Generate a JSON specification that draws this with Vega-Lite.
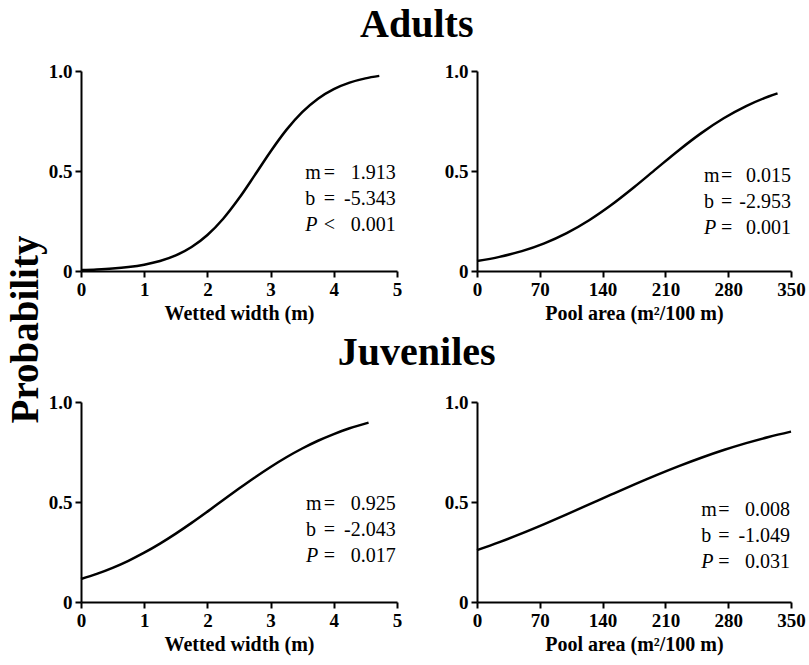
{
  "$schema": "https://vega.github.io/schema/vega-lite/v6.json",
  "background": "white",
  "padding": {"left": 7, "top": 5, "right": 10, "bottom": 5},
  "title": {"text": "Probability", "orient": "left", "anchor": "middle", "fontSize": 39, "offset": 2},
  "datasets": {
    "curves": [
      {"panel": "A", "x": 0, "p": 0.0048}, {"panel": "A", "x": 0.25, "p": 0.0077}, {"panel": "A", "x": 0.5, "p": 0.0123},
      {"panel": "A", "x": 0.75, "p": 0.0197}, {"panel": "A", "x": 1, "p": 0.0314}, {"panel": "A", "x": 1.25, "p": 0.0497},
      {"panel": "A", "x": 1.5, "p": 0.0777}, {"panel": "A", "x": 1.75, "p": 0.1197}, {"panel": "A", "x": 2, "p": 0.1799},
      {"panel": "A", "x": 2.25, "p": 0.2614}, {"panel": "A", "x": 2.5, "p": 0.3634}, {"panel": "A", "x": 2.75, "p": 0.4794},
      {"panel": "A", "x": 3, "p": 0.5977}, {"panel": "A", "x": 3.25, "p": 0.7056}, {"panel": "A", "x": 3.5, "p": 0.7945},
      {"panel": "A", "x": 3.75, "p": 0.8618}, {"panel": "A", "x": 4, "p": 0.9096}, {"panel": "A", "x": 4.25, "p": 0.942},
      {"panel": "A", "x": 4.5, "p": 0.9632}, {"panel": "A", "x": 4.72, "p": 0.9756},

      {"panel": "B", "x": 0, "p": 0.0496}, {"panel": "B", "x": 25, "p": 0.0706}, {"panel": "B", "x": 50, "p": 0.0995},
      {"panel": "B", "x": 75, "p": 0.1385}, {"panel": "B", "x": 100, "p": 0.1895}, {"panel": "B", "x": 125, "p": 0.2539},
      {"panel": "B", "x": 150, "p": 0.3311}, {"panel": "B", "x": 175, "p": 0.4187}, {"panel": "B", "x": 200, "p": 0.5117},
      {"panel": "B", "x": 225, "p": 0.604}, {"panel": "B", "x": 250, "p": 0.6893}, {"panel": "B", "x": 275, "p": 0.7635},
      {"panel": "B", "x": 300, "p": 0.8245}, {"panel": "B", "x": 325, "p": 0.8724}, {"panel": "B", "x": 335, "p": 0.8882},

      {"panel": "C", "x": 0, "p": 0.1148}, {"panel": "C", "x": 0.25, "p": 0.1404}, {"panel": "C", "x": 0.5, "p": 0.1707},
      {"panel": "C", "x": 0.75, "p": 0.206}, {"panel": "C", "x": 1, "p": 0.2464}, {"panel": "C", "x": 1.25, "p": 0.2918},
      {"panel": "C", "x": 1.5, "p": 0.3418}, {"panel": "C", "x": 1.75, "p": 0.3955}, {"panel": "C", "x": 2, "p": 0.4519},
      {"panel": "C", "x": 2.25, "p": 0.5096}, {"panel": "C", "x": 2.5, "p": 0.567}, {"panel": "C", "x": 2.75, "p": 0.6226},
      {"panel": "C", "x": 3, "p": 0.6752}, {"panel": "C", "x": 3.25, "p": 0.7238}, {"panel": "C", "x": 3.5, "p": 0.7675},
      {"panel": "C", "x": 3.75, "p": 0.8062}, {"panel": "C", "x": 4, "p": 0.8398}, {"panel": "C", "x": 4.25, "p": 0.8686},
      {"panel": "C", "x": 4.55, "p": 0.8971},

      {"panel": "D", "x": 0, "p": 0.2594}, {"panel": "D", "x": 25, "p": 0.2996}, {"panel": "D", "x": 50, "p": 0.3432},
      {"panel": "D", "x": 75, "p": 0.3896}, {"panel": "D", "x": 100, "p": 0.4381}, {"panel": "D", "x": 125, "p": 0.4878},
      {"panel": "D", "x": 150, "p": 0.5377}, {"panel": "D", "x": 175, "p": 0.5869}, {"panel": "D", "x": 200, "p": 0.6344},
      {"panel": "D", "x": 225, "p": 0.6794}, {"panel": "D", "x": 250, "p": 0.7213}, {"panel": "D", "x": 275, "p": 0.7597},
      {"panel": "D", "x": 300, "p": 0.7943}, {"panel": "D", "x": 325, "p": 0.8251}, {"panel": "D", "x": 350, "p": 0.8521}
    ],
    "fits": [
      {"panel": "A", "sym": ["m", "b"], "ital": "P", "op": ["=", "=", "<"], "val": ["1.913", "-5.343", "0.001"]},
      {"panel": "B", "sym": ["m", "b"], "ital": "P", "op": ["=", "=", "="], "val": ["0.015", "-2.953", "0.001"]},
      {"panel": "C", "sym": ["m", "b"], "ital": "P", "op": ["=", "=", "="], "val": ["0.925", "-2.043", "0.017"]},
      {"panel": "D", "sym": ["m", "b"], "ital": "P", "op": ["=", "=", "="], "val": ["0.008", "-1.049", "0.031"]}
    ]
  },
  "vconcat": [
    {
      "title": {"text": "Adults", "offset": 17, "dx": -10},
      "spacing": 42,
      "hconcat": [
        {
          "width": 316, "height": 200,
          "layer": [
            {
              "data": {"name": "curves"},
              "transform": [{"filter": "datum.panel === 'A'"}],
              "mark": {"type": "line", "color": "black", "strokeWidth": 2.5, "interpolate": "monotone"},
              "encoding": {
                "x": {"field": "x", "type": "quantitative", "scale": {"domain": [0, 5]}, "axis": {"values": [0, 1, 2, 3, 4, 5], "format": "d", "title": "Wetted width (m)"}},
                "y": {"field": "p", "type": "quantitative", "scale": {"domain": [0, 1]}, "axis": {"values": [0, 0.5, 1], "title": null, "labelExpr": "datum.value === 0 ? '0' : format(datum.value, '.1f')"}}
              }
            },
            {
              "data": {"name": "fits"}, "transform": [{"filter": "datum.panel === 'A'"}],
              "mark": {"type": "text", "align": "left", "baseline": "alphabetic", "lineHeight": 26},
              "encoding": {"x": {"datum": 3.55}, "y": {"datum": 0.462}, "text": {"field": "sym"}}
            },
            {
              "data": {"name": "fits"}, "transform": [{"filter": "datum.panel === 'A'"}],
              "mark": {"type": "text", "align": "left", "baseline": "alphabetic", "fontStyle": "italic"},
              "encoding": {"x": {"datum": 3.55}, "y": {"datum": 0.2}, "text": {"field": "ital"}}
            },
            {
              "data": {"name": "fits"}, "transform": [{"filter": "datum.panel === 'A'"}],
              "mark": {"type": "text", "align": "left", "baseline": "alphabetic", "lineHeight": 26},
              "encoding": {"x": {"datum": 3.84}, "y": {"datum": 0.462}, "text": {"field": "op"}}
            },
            {
              "data": {"name": "fits"}, "transform": [{"filter": "datum.panel === 'A'"}],
              "mark": {"type": "text", "align": "right", "baseline": "alphabetic", "lineHeight": 26},
              "encoding": {"x": {"datum": 4.98}, "y": {"datum": 0.462}, "text": {"field": "val"}}
            }
          ]
        },
        {
          "width": 314, "height": 200,
          "layer": [
            {
              "data": {"name": "curves"},
              "transform": [{"filter": "datum.panel === 'B'"}],
              "mark": {"type": "line", "color": "black", "strokeWidth": 2.5, "interpolate": "monotone"},
              "encoding": {
                "x": {"field": "x", "type": "quantitative", "scale": {"domain": [0, 350]}, "axis": {"values": [0, 70, 140, 210, 280, 350], "format": "d", "title": "Pool area (m²/100 m)"}},
                "y": {"field": "p", "type": "quantitative", "scale": {"domain": [0, 1]}, "axis": {"values": [0, 0.5, 1], "title": null, "labelExpr": "datum.value === 0 ? '0' : format(datum.value, '.1f')"}}
              }
            },
            {
              "data": {"name": "fits"}, "transform": [{"filter": "datum.panel === 'B'"}],
              "mark": {"type": "text", "align": "left", "baseline": "alphabetic", "lineHeight": 26},
              "encoding": {"x": {"datum": 253}, "y": {"datum": 0.445}, "text": {"field": "sym"}}
            },
            {
              "data": {"name": "fits"}, "transform": [{"filter": "datum.panel === 'B'"}],
              "mark": {"type": "text", "align": "left", "baseline": "alphabetic", "fontStyle": "italic"},
              "encoding": {"x": {"datum": 253}, "y": {"datum": 0.185}, "text": {"field": "ital"}}
            },
            {
              "data": {"name": "fits"}, "transform": [{"filter": "datum.panel === 'B'"}],
              "mark": {"type": "text", "align": "left", "baseline": "alphabetic", "lineHeight": 26},
              "encoding": {"x": {"datum": 272}, "y": {"datum": 0.445}, "text": {"field": "op"}}
            },
            {
              "data": {"name": "fits"}, "transform": [{"filter": "datum.panel === 'B'"}],
              "mark": {"type": "text", "align": "right", "baseline": "alphabetic", "lineHeight": 26},
              "encoding": {"x": {"datum": 350}, "y": {"datum": 0.445}, "text": {"field": "val"}}
            }
          ]
        }
      ]
    },
    {
      "title": {"text": "Juveniles", "offset": 20, "dx": -10},
      "spacing": 42,
      "hconcat": [
        {
          "width": 316, "height": 200,
          "layer": [
            {
              "data": {"name": "curves"},
              "transform": [{"filter": "datum.panel === 'C'"}],
              "mark": {"type": "line", "color": "black", "strokeWidth": 2.5, "interpolate": "monotone"},
              "encoding": {
                "x": {"field": "x", "type": "quantitative", "scale": {"domain": [0, 5]}, "axis": {"values": [0, 1, 2, 3, 4, 5], "format": "d", "title": "Wetted width (m)"}},
                "y": {"field": "p", "type": "quantitative", "scale": {"domain": [0, 1]}, "axis": {"values": [0, 0.5, 1], "title": null, "labelExpr": "datum.value === 0 ? '0' : format(datum.value, '.1f')"}}
              }
            },
            {
              "data": {"name": "fits"}, "transform": [{"filter": "datum.panel === 'C'"}],
              "mark": {"type": "text", "align": "left", "baseline": "alphabetic", "lineHeight": 26},
              "encoding": {"x": {"datum": 3.56}, "y": {"datum": 0.458}, "text": {"field": "sym"}}
            },
            {
              "data": {"name": "fits"}, "transform": [{"filter": "datum.panel === 'C'"}],
              "mark": {"type": "text", "align": "left", "baseline": "alphabetic", "fontStyle": "italic"},
              "encoding": {"x": {"datum": 3.56}, "y": {"datum": 0.198}, "text": {"field": "ital"}}
            },
            {
              "data": {"name": "fits"}, "transform": [{"filter": "datum.panel === 'C'"}],
              "mark": {"type": "text", "align": "left", "baseline": "alphabetic", "lineHeight": 26},
              "encoding": {"x": {"datum": 3.84}, "y": {"datum": 0.458}, "text": {"field": "op"}}
            },
            {
              "data": {"name": "fits"}, "transform": [{"filter": "datum.panel === 'C'"}],
              "mark": {"type": "text", "align": "right", "baseline": "alphabetic", "lineHeight": 26},
              "encoding": {"x": {"datum": 4.98}, "y": {"datum": 0.458}, "text": {"field": "val"}}
            }
          ]
        },
        {
          "width": 314, "height": 200,
          "layer": [
            {
              "data": {"name": "curves"},
              "transform": [{"filter": "datum.panel === 'D'"}],
              "mark": {"type": "line", "color": "black", "strokeWidth": 2.5, "interpolate": "monotone"},
              "encoding": {
                "x": {"field": "x", "type": "quantitative", "scale": {"domain": [0, 350]}, "axis": {"values": [0, 70, 140, 210, 280, 350], "format": "d", "title": "Pool area (m²/100 m)"}},
                "y": {"field": "p", "type": "quantitative", "scale": {"domain": [0, 1]}, "axis": {"values": [0, 0.5, 1], "title": null, "labelExpr": "datum.value === 0 ? '0' : format(datum.value, '.1f')"}}
              }
            },
            {
              "data": {"name": "fits"}, "transform": [{"filter": "datum.panel === 'D'"}],
              "mark": {"type": "text", "align": "left", "baseline": "alphabetic", "lineHeight": 26},
              "encoding": {"x": {"datum": 250}, "y": {"datum": 0.43}, "text": {"field": "sym"}}
            },
            {
              "data": {"name": "fits"}, "transform": [{"filter": "datum.panel === 'D'"}],
              "mark": {"type": "text", "align": "left", "baseline": "alphabetic", "fontStyle": "italic"},
              "encoding": {"x": {"datum": 250}, "y": {"datum": 0.17}, "text": {"field": "ital"}}
            },
            {
              "data": {"name": "fits"}, "transform": [{"filter": "datum.panel === 'D'"}],
              "mark": {"type": "text", "align": "left", "baseline": "alphabetic", "lineHeight": 26},
              "encoding": {"x": {"datum": 269}, "y": {"datum": 0.43}, "text": {"field": "op"}}
            },
            {
              "data": {"name": "fits"}, "transform": [{"filter": "datum.panel === 'D'"}],
              "mark": {"type": "text", "align": "right", "baseline": "alphabetic", "lineHeight": 26},
              "encoding": {"x": {"datum": 349}, "y": {"datum": 0.43}, "text": {"field": "val"}}
            }
          ]
        }
      ]
    }
  ],
  "spacing": 10,
  "config": {
    "font": "Liberation Serif",
    "view": {"stroke": null},
    "title": {"font": "Liberation Serif", "fontSize": 40, "fontWeight": "bold", "color": "black", "anchor": "middle"},
    "axis": {
      "grid": false,
      "domainColor": "black", "domainWidth": 2,
      "tickColor": "black", "tickWidth": 2, "tickSize": 6,
      "labelFont": "Liberation Serif", "labelFontSize": 19, "labelFontWeight": "bold", "labelColor": "black",
      "labelPadding": 3, "labelOverlap": false, "labelFlush": false,
      "titleFont": "Liberation Serif", "titleFontSize": 20, "titleFontWeight": "bold", "titleColor": "black", "titlePadding": 4
    },
    "text": {"font": "Liberation Serif", "fontSize": 20, "color": "black"}
  }
}
